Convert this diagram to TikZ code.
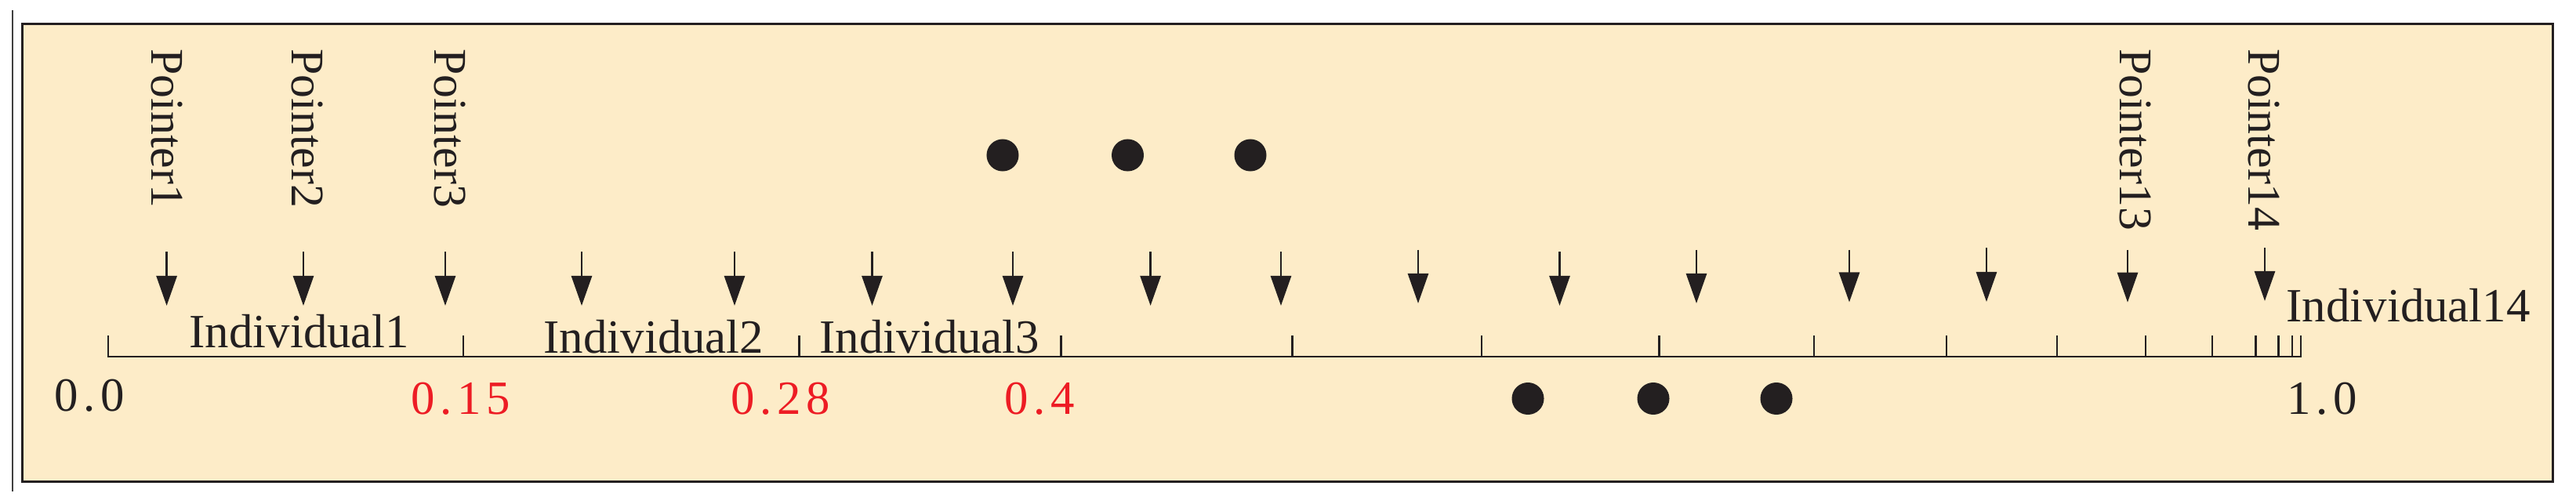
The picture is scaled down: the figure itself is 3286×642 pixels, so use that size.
\documentclass[tikz,border=0pt]{standalone}
\usepackage{fontspec}
\setmainfont{Liberation Serif}
\usetikzlibrary{arrows.meta}
\definecolor{bgbeige}{RGB}{253,236,200}
\definecolor{inkblack}{RGB}{35,31,32}
\definecolor{labred}{RGB}{237,28,36}
\begin{document}
\begin{tikzpicture}[x=0.01cm,y=-0.01cm,
  lbl/.style={inner sep=0pt, anchor=base west, font=\fontsize{17.3}{20}\selectfont, text=inkblack},
  ptr/.style={inner sep=0pt, anchor=base west, rotate=-90, font=\fontsize{17}{20}\selectfont, text=inkblack},
  num/.style={inner sep=0pt, anchor=base west, font=\fontsize{17.3}{20}\selectfont\addfontfeature{LetterSpace=11}, text=inkblack},
  rednum/.style={num, text=labred},
  pointerarrow/.style={draw=inkblack, line width=0.77pt, -{Triangle[length=0.38cm,width=0.26cm]}},
  axisline/.style={draw=inkblack, line width=0.77pt, line join=miter},
  dotmark/.style={circle, fill=inkblack, minimum size=0.41cm, inner sep=0pt},
]
\useasboundingbox (0,0) rectangle (3286,642);
\fill[white] (0,0) rectangle (3286,642);
% thin line at the left
\draw[line width=0.35pt, draw=black!75] (16,12.5) -- (16,626.5);
% frame
\draw[line width=1pt, draw=inkblack, fill=bgbeige] (28.5,30.5) rectangle (3256.5,614.5);
% axis
\draw[axisline] (138,428) -- (138,455) -- (2935,455) -- (2935,428);
\foreach \x in {591,1019.5,1353.5,1648.5,1890,2116.5,2314,2483,2624,2737,2822,2877.5,2906.5,2924} {
  \draw[axisline] (\x,428) -- (\x,455);
}
% pointer arrows
\foreach \x/\t/\b [count=\i] in {212.6/321/390, 387/321/390, 568/321/390, 742/321/390,
  937/321/390, 1112.5/321/390, 1292/321/390, 1467.6/321/390, 1634/321/390,
  1809/318.5/387, 1989.5/321/390, 2164/318.5/387, 2359/318.5/385.5,
  2534/316/385, 2714/318.5/385.7, 2889/316/384} {
  \coordinate (s\i) at (\x,\t);
  \coordinate (e\i) at (\x,\b);
  \draw[pointerarrow] (s\i) -- (e\i);
}
% pointer labels
\node[ptr] (p1) at (193,62) {Pointer1};
\node[ptr] (p2) at (372,62) {Pointer2};
\node[ptr] (p3) at (554,62) {Pointer3};
\node[ptr] (p13) at (2704,61.5) {Pointer13};
\node[ptr] (p14) at (2868,61.5) {Pointer14};
% individual labels
\node[lbl] (i1) at (241,443) {Individual1};
\node[lbl] (i2) at (693,450) {Individual2};
\node[lbl] (i3) at (1045,450) {Individual3};
\node[lbl] (i14) at (2916,410) {Individual14};
% values
\node[num] (v0) at (69,524) {0.0};
\node[rednum] (v15) at (524,528) {0.15};
\node[rednum] (v28) at (932,528) {0.28};
\node[rednum] (v4) at (1281,528) {0.4};
\node[num] (v1) at (2917,528) {1.0};
% ellipsis dots
\node[dotmark] (d1) at (1279,198) {};
\node[dotmark] (d2) at (1438.5,198) {};
\node[dotmark] (d3) at (1595,198) {};
\node[dotmark] (d4) at (1949,508.5) {};
\node[dotmark] (d5) at (2109,508.5) {};
\node[dotmark] (d6) at (2266,508.5) {};
\end{tikzpicture}
\end{document}
